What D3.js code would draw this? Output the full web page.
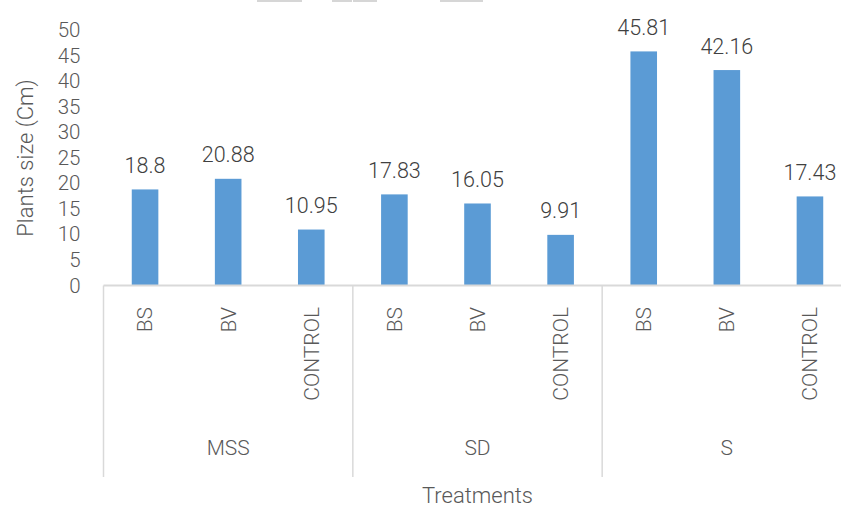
<html>
  <head>
    <script src="https://d3js.org/d3.v7.min.js"></script>
    <style>
      body { margin: 0; background: #fff; }
      text { font-family: Roboto, "Open Sans", sans-serif; font-weight: 300; }
    </style>
  </head>
  <body>
    <div id="chart"></div>
    <script>
      // data
      var groups = ["MSS", "SD", "S"];
      var treatments = ["BS", "BV", "CONTROL"];
      var mssValues = [18.8, 20.88, 10.95];
      var sdValues = [17.83, 16.05, 9.91];
      var sValues = [45.81, 42.16, 17.43];
      var yTicks = [0, 5, 10, 15, 20, 25, 30, 35, 40, 45, 50];

      var seriesByGroup = { "MSS": mssValues, "SD": sdValues, "S": sValues };
      var data = [];
      groups.forEach(function(g) {
        treatments.forEach(function(t, i) {
          data.push({ group: g, cat: t, value: seriesByGroup[g][i] });
        });
      });

      var width = 841, height = 508;
      var svg = d3.select("#chart").append("svg")
        .attr("width", width)
        .attr("height", height);

      // cropped title remnants at the very top
      var g0 = svg.append("g").attr("fill", "#d6d6d6");
      g0.append("rect").attr("x", 257).attr("y", 0).attr("width", 45).attr("height", 2);
      g0.append("rect").attr("x", 332).attr("y", 0).attr("width", 20).attr("height", 2);
      g0.append("rect").attr("x", 353).attr("y", 0).attr("width", 24).attr("height", 2);
      g0.append("rect").attr("x", 440).attr("y", 0).attr("width", 43).attr("height", 2);

      var x0 = d3.scaleBand()
        .domain(groups)
        .range([103.5, 851.5])
        .padding(0);

      var x1 = d3.scaleBand()
        .domain(treatments)
        .range([0, x0.bandwidth()])
        .paddingInner(0.68)
        .paddingOuter(0.34);

      var y = d3.scaleLinear()
        .domain([0, 50])
        .range([285.5, 30]);

      // y axis labels
      var yAxis = svg.append("g")
        .attr("transform", "translate(103.5,0)")
        .call(d3.axisLeft(y).tickValues(yTicks).tickSize(0).tickPadding(23));
      yAxis.select(".domain").remove();
      yAxis.selectAll("text")
        .attr("fill", "#595959")
        .style("font-size", "20.5px")
        .style("font-family", "Roboto, sans-serif")
        .style("font-weight", "300");

      // bars
      svg.append("g").selectAll("rect")
        .data(data)
        .enter().append("rect")
          .attr("x", function(d) { return x0(d.group) + x1(d.cat); })
          .attr("y", function(d) { return y(d.value); })
          .attr("width", x1.bandwidth())
          .attr("height", function(d) { return y(0) - y(d.value); })
          .attr("fill", "#5b9bd5");

      // value labels
      svg.append("g").selectAll("text")
        .data(data)
        .enter().append("text")
          .attr("x", function(d) { return x0(d.group) + x1(d.cat) + x1.bandwidth() / 2; })
          .attr("y", function(d) { return y(d.value) - 16.5; })
          .attr("text-anchor", "middle")
          .attr("fill", "#404040")
          .style("font-size", "21.5px")
          .text(function(d) { return d.value; });

      // axis line and group separators
      var axisColor = "#d9d9d9";
      svg.append("line")
        .attr("x1", x0.range()[0]).attr("x2", x0.range()[1])
        .attr("y1", y(0)).attr("y2", y(0))
        .attr("stroke", axisColor).attr("stroke-width", 2);

      var bounds = groups.map(function(g) { return x0(g); }).concat([x0.range()[1]]);
      svg.append("g").selectAll("line")
        .data(bounds)
        .enter().append("line")
          .attr("x1", function(d) { return d; })
          .attr("x2", function(d) { return d; })
          .attr("y1", y(0))
          .attr("y2", 477)
          .attr("stroke", axisColor)
          .attr("stroke-width", 1.5);

      // category labels (rotated)
      svg.append("g").selectAll("text")
        .data(data)
        .enter().append("text")
          .attr("transform", function(d) {
            var cx = x0(d.group) + x1(d.cat) + x1.bandwidth() / 2;
            return "translate(" + cx + ",307) rotate(-90)";
          })
          .attr("text-anchor", "end")
          .attr("dy", "0.35em")
          .attr("fill", "#595959")
          .style("font-size", "21px")
          .text(function(d) { return d.cat; });

      // group labels
      svg.append("g").selectAll("text")
        .data(groups)
        .enter().append("text")
          .attr("x", function(d) { return x0(d) + x0.bandwidth() / 2; })
          .attr("y", 448)
          .attr("dy", "0.35em")
          .attr("text-anchor", "middle")
          .attr("fill", "#595959")
          .style("font-size", "21px")
          .text(function(d) { return d; });

      // axis titles
      svg.append("text")
        .attr("x", (x0.range()[0] + x0.range()[1]) / 2)
        .attr("y", 495)
        .attr("dy", "0.35em")
        .attr("text-anchor", "middle")
        .attr("fill", "#595959")
        .style("font-size", "22px")
        .text("Treatments");

      svg.append("text")
        .attr("transform", "translate(25,158) rotate(-90)")
        .attr("dy", "0.35em")
        .attr("text-anchor", "middle")
        .attr("fill", "#595959")
        .style("font-size", "22px")
        .text("Plants size (Cm)");
    </script>
  </body>
</html>
